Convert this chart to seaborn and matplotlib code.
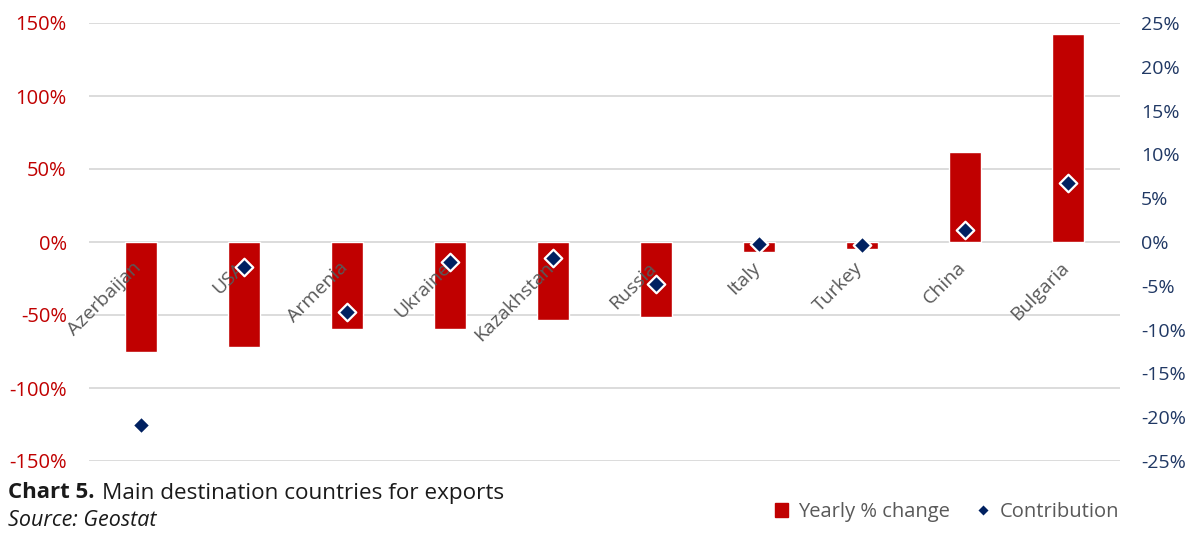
import numpy as np
import pandas as pd
import matplotlib
matplotlib.use("Agg")
import matplotlib.pyplot as plt
import seaborn as sns
from matplotlib.ticker import PercentFormatter, MultipleLocator
from matplotlib.patches import Patch
from matplotlib.lines import Line2D

countries = ["Azerbaijan", "USA", "Armenia", "Ukraine", "Kazakhstan",
             "Russia", "Italy", "Turkey", "China", "Bulgaria"]
yearly_change = [-0.752, -0.72, -0.594, -0.594, -0.536, -0.515, -0.07, -0.05, 0.618, 1.426]
contribution = [-0.209, -0.029, -0.080, -0.023, -0.018, -0.048, -0.002, -0.003, 0.014, 0.067]

RED = "#C00000"
NAVY = "#002060"
RIGHT_COL = "#203864"
GRAY_TXT = "#595959"

sns.set_theme(style="white")
plt.rcParams["font.family"] = ["Open Sans", "DejaVu Sans"]
plt.rcParams["axes.unicode_minus"] = False

df = pd.DataFrame({"country": countries, "yearly": yearly_change, "contrib": contribution})

fig = plt.figure(figsize=(11.92, 5.34), dpi=100)
ax = fig.add_axes([89 / 1192, 1 - 461 / 534, (1120 - 89) / 1192, (461 - 23) / 534])

sns.barplot(data=df, x="country", y="yearly", color=RED, saturation=1, width=0.31, ax=ax, zorder=2)
ax.set_ylim(-1.5, 1.5)
ax.set_xlim(-0.5, len(countries) - 0.5)
ax.yaxis.set_major_locator(MultipleLocator(0.5))
ax.yaxis.set_major_formatter(PercentFormatter(xmax=1, decimals=0))
ax.grid(axis="y", color="#D9D9D9", linewidth=1.3, zorder=0)
ax.grid(axis="x", visible=False)
ax.set_axisbelow(True)
for s in ax.spines.values():
    s.set_visible(False)
ax.tick_params(axis="y", colors=RED, labelsize=14.5, length=0, pad=16)
ax.tick_params(axis="x", length=0)
ax.set_xticks([])
ax.set_xlabel("")
ax.set_ylabel("")

ax2 = ax.twinx()
sns.scatterplot(x=np.arange(len(countries)), y=df["contrib"], marker="D", s=80,
                color=NAVY, edgecolor="white", linewidth=1.6, ax=ax2, zorder=5)
ax2.set_ylim(-0.25, 0.25)
ax2.yaxis.set_major_locator(MultipleLocator(0.05))
ax2.yaxis.set_major_formatter(PercentFormatter(xmax=1, decimals=0))
for s in ax2.spines.values():
    s.set_visible(False)
ax2.tick_params(axis="y", colors=RIGHT_COL, labelsize=14, length=0, pad=15)
ax2.set_ylabel("")
ax2.grid(False)
ax2.set_xlim(-0.5, len(countries) - 0.5)

# category labels inside the plot below the zero line
for i, name in enumerate(countries):
    ax2.annotate(name, xy=(i, 0), xycoords=("data", "data"), xytext=(-6, -12),
                 textcoords="offset points", rotation=45, rotation_mode="anchor",
                 ha="right", va="top", fontsize=14, color=GRAY_TXT, zorder=4)

t1 = fig.text(8 / 1192, 1 - 493 / 534, "Chart 5.", fontsize=16, fontweight="bold",
              color="#1a1a1a", va="center")
fig.canvas.draw()
bb = t1.get_window_extent()
fig.text((bb.x1 + 8) / 1192, 1 - 493 / 534, "Main destination countries for exports",
         fontsize=16.2, color="#1a1a1a", va="center")
fig.text(8 / 1192, 1 - 521 / 534, "Source: Geostat", fontsize=15.5, style="italic",
         color="#1a1a1a", va="center")

handles = [Patch(facecolor=RED, edgecolor=RED, label="Yearly % change"),
           Line2D([0], [0], marker="D", linestyle="none", markersize=6,
                  markerfacecolor=NAVY, markeredgecolor="white", label="Contribution")]
leg = fig.legend(handles=handles, loc="center right", bbox_to_anchor=(1137 / 1192, 1 - 512 / 534),
                 ncol=2, frameon=False, fontsize=14.5, handlelength=0.65, handleheight=0.65,
                 handletextpad=0.5, columnspacing=1.3, labelcolor=GRAY_TXT)

fig.savefig("out.png", dpi=100)
